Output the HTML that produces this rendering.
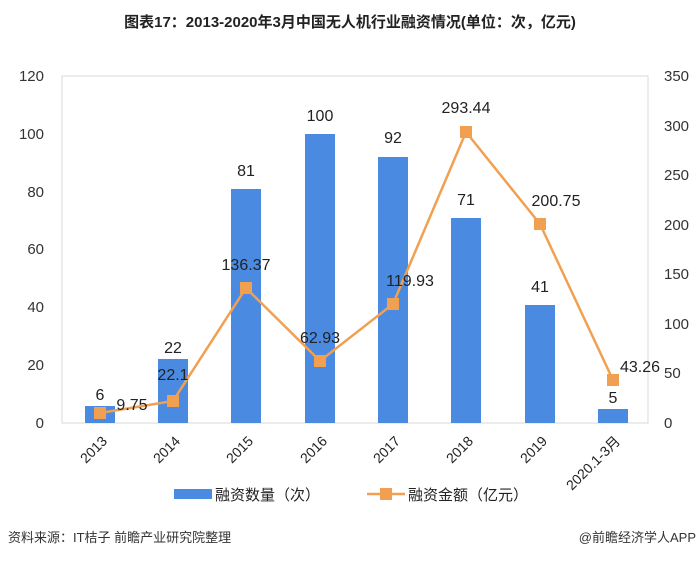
<!DOCTYPE html>
<html><head><meta charset="utf-8"><style>
body{margin:0;background:#fff;}
svg text{font-family:"Liberation Sans","Noto Sans CJK SC",sans-serif;}
</style></head><body>
<svg width="700" height="558" viewBox="0 0 700 558" xmlns="http://www.w3.org/2000/svg">
<text x="350" y="27" text-anchor="middle" font-size="15" font-weight="bold" fill="#222">图表17：2013-2020年3月中国无人机行业融资情况(单位：次，亿元)</text>
<rect x="62" y="76" width="586" height="347" fill="none" stroke="#d8d8d8" stroke-width="1"/>
<g font-size="15" fill="#333" text-anchor="end">
<text x="44" y="81">120</text><text x="44" y="139">100</text><text x="44" y="197">80</text>
<text x="44" y="254">60</text><text x="44" y="312">40</text><text x="44" y="370">20</text><text x="44" y="428">0</text>
</g>
<g font-size="15" fill="#333" text-anchor="start">
<text x="664" y="81">350</text><text x="664" y="131">300</text><text x="664" y="180">250</text>
<text x="664" y="230">200</text><text x="664" y="279">150</text><text x="664" y="329">100</text><text x="664" y="378">50</text><text x="664" y="428">0</text>
</g>
<g fill="#4a8ae0">
<rect x="85" y="406" width="30" height="17"/>
<rect x="158" y="359" width="30" height="64"/>
<rect x="231" y="189" width="30" height="234"/>
<rect x="305" y="134" width="30" height="289"/>
<rect x="378" y="157" width="30" height="266"/>
<rect x="451" y="218" width="30" height="205"/>
<rect x="525" y="305" width="30" height="118"/>
<rect x="598" y="409" width="30" height="14"/>
</g>
<polyline fill="none" stroke="#f0a050" stroke-width="2.5" points="100,413 173,401 246,288 320,361 393,304 466,132 540,224 613,380"/>
<g fill="#f0a050">
<rect x="94" y="407" width="12" height="12"/><rect x="167" y="395" width="12" height="12"/>
<rect x="240" y="282" width="12" height="12"/><rect x="314" y="355" width="12" height="12"/>
<rect x="387" y="298" width="12" height="12"/><rect x="460" y="126" width="12" height="12"/>
<rect x="534" y="218" width="12" height="12"/><rect x="607" y="374" width="12" height="12"/>
</g>
<g font-size="16" fill="#222" text-anchor="middle">
<text x="100" y="400">6</text><text x="173" y="353">22</text><text x="246" y="176">81</text>
<text x="320" y="121">100</text><text x="393" y="143">92</text><text x="466" y="205">71</text>
<text x="540" y="292">41</text><text x="613" y="403">5</text>
<text x="132" y="410">9.75</text><text x="173" y="380">22.1</text><text x="246" y="270">136.37</text>
<text x="320" y="343">62.93</text><text x="410" y="286">119.93</text><text x="466" y="113">293.44</text>
<text x="556" y="206">200.75</text><text x="640" y="372">43.26</text>
</g>
<g font-size="14" fill="#222" text-anchor="end">
<text transform="translate(108,442) rotate(-45)">2013</text>
<text transform="translate(181,442) rotate(-45)">2014</text>
<text transform="translate(254,442) rotate(-45)">2015</text>
<text transform="translate(328,442) rotate(-45)">2016</text>
<text transform="translate(401,442) rotate(-45)">2017</text>
<text transform="translate(474,442) rotate(-45)">2018</text>
<text transform="translate(548,442) rotate(-45)">2019</text>
<text transform="translate(621,442) rotate(-45)">2020.1-3月</text>
</g>
<rect x="174" y="489" width="38" height="10" fill="#4a8ae0"/>
<text x="215" y="500" font-size="15" fill="#222">融资数量（次）</text>
<line x1="367" y1="494" x2="405" y2="494" stroke="#f0a050" stroke-width="2.5"/>
<rect x="380" y="488" width="12" height="12" fill="#f0a050"/>
<text x="408" y="500" font-size="15" fill="#222">融资金额（亿元）</text>
<text x="8" y="542" font-size="13" fill="#333">资料来源：IT桔子 前瞻产业研究院整理</text>
<text x="696" y="542" font-size="13" fill="#333" text-anchor="end">@前瞻经济学人APP</text>
</svg>
</body></html>
